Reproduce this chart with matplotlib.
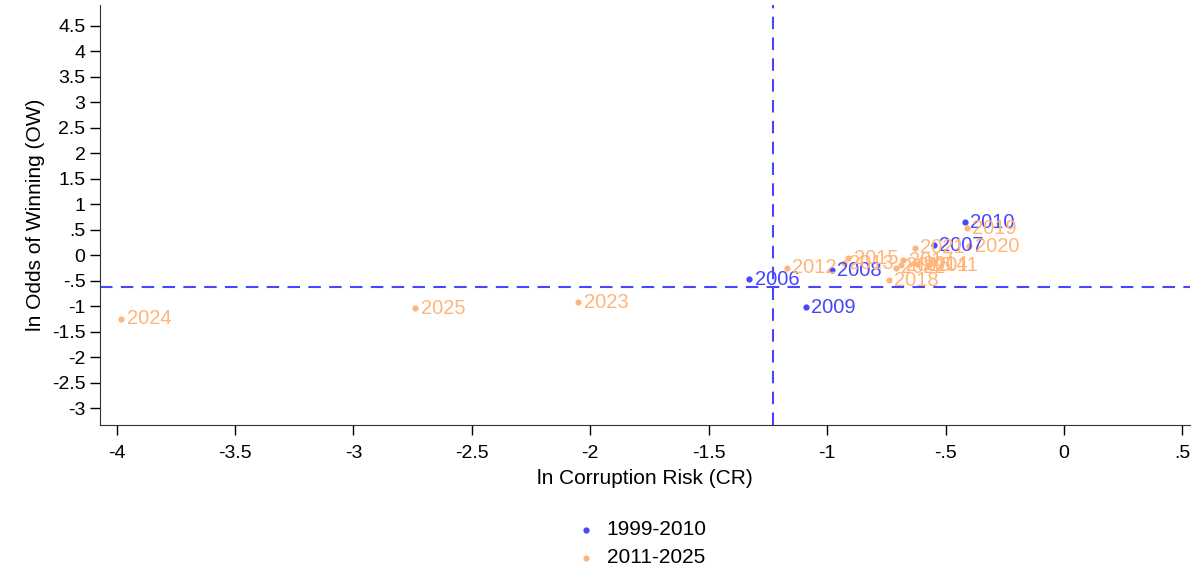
import matplotlib.pyplot as plt
from matplotlib.ticker import FuncFormatter

plt.rcParams['font.family'] = ['Liberation Sans', 'DejaVu Sans']

# 1999-2010 group
yrs_a = ['2006', '2007', '2008', '2009', '2010']
cr_a = [-1.33, -0.55, -0.98, -1.09, -0.42]
ow_a = [-0.47, 0.20, -0.29, -1.02, 0.65]

# 2011-2025 group
yrs_b = ['2011', '2012', '2013', '2014', '2015', '2016', '2017', '2018',
         '2019', '2020', '2021', '2022', '2023', '2024', '2025']
cr_b = [-0.57, -1.17, -0.93, -0.62, -0.91, -0.69, -0.68, -0.74,
        -0.41, -0.40, -0.63, -0.71, -2.05, -3.98, -2.74]
ow_b = [-0.20, -0.25, -0.16, -0.18, -0.06, -0.20, -0.10, -0.49,
        0.53, 0.18, 0.15, -0.25, -0.92, -1.24, -1.04]

mean_cr = -1.23
mean_ow = -0.63

blue = '#4646ff'
orange = '#ffb57a'

fig = plt.figure(figsize=(11.96, 5.73), dpi=100)
ax = fig.add_axes([0.0836, 0.258, 0.9114, 0.733])

ax.scatter(cr_a, ow_a, s=12, color=blue, label='1999-2010', zorder=3)
ax.scatter(cr_b, ow_b, s=12, color=orange, label='2011-2025', zorder=3)
for x, y, t in zip(cr_a, ow_a, yrs_a):
    ax.annotate(t, (x, y), xytext=(4, 0), textcoords='offset points',
                va='center', ha='left', fontsize=14.5, color=blue, zorder=4)
for x, y, t in zip(cr_b, ow_b, yrs_b):
    ax.annotate(t, (x, y), xytext=(4, 0), textcoords='offset points',
                va='center', ha='left', fontsize=14.5, color=orange, zorder=4)

ax.axvline(mean_cr, color=blue, linestyle=(0, (6, 4)), linewidth=1.5, zorder=2)
ax.axhline(mean_ow, color=blue, linestyle=(0, (6, 4)), linewidth=1.5, zorder=2)

ax.set_xlim(-4.07, 0.532)
ax.set_ylim(-3.33, 4.9)
ax.set_xticks([-4, -3.5, -3, -2.5, -2, -1.5, -1, -0.5, 0, 0.5])
ax.set_yticks([4.5, 4, 3.5, 3, 2.5, 2, 1.5, 1, 0.5, 0, -0.5, -1, -1.5, -2, -2.5, -3])


def stata_fmt(v, pos):
    s = ('%g' % round(v, 2))
    if s.startswith('0.'):
        s = s[1:]
    elif s.startswith('-0.'):
        s = '-' + s[2:]
    return s


ax.xaxis.set_major_formatter(FuncFormatter(stata_fmt))
ax.yaxis.set_major_formatter(FuncFormatter(stata_fmt))
ax.tick_params(axis='both', direction='out', length=7, width=1, labelsize=14, colors='black')
ax.tick_params(axis='x', pad=7)
ax.spines['top'].set_visible(False)
ax.spines['right'].set_visible(False)
ax.spines['left'].set_color('#333333')
ax.spines['bottom'].set_color('#333333')

ax.set_xlabel('ln Corruption Risk (CR)', fontsize=15, labelpad=5)
ax.set_ylabel('ln Odds of Winning (OW)', fontsize=15, labelpad=5)

fig.legend(*ax.get_legend_handles_labels(), loc='center',
           bbox_to_anchor=(0.535, 0.051), frameon=False, fontsize=15,
           handletextpad=0.4, handlelength=1.2, labelspacing=0.45,
           borderaxespad=0, markerscale=1.0)

fig.savefig('out.png', dpi=100)
